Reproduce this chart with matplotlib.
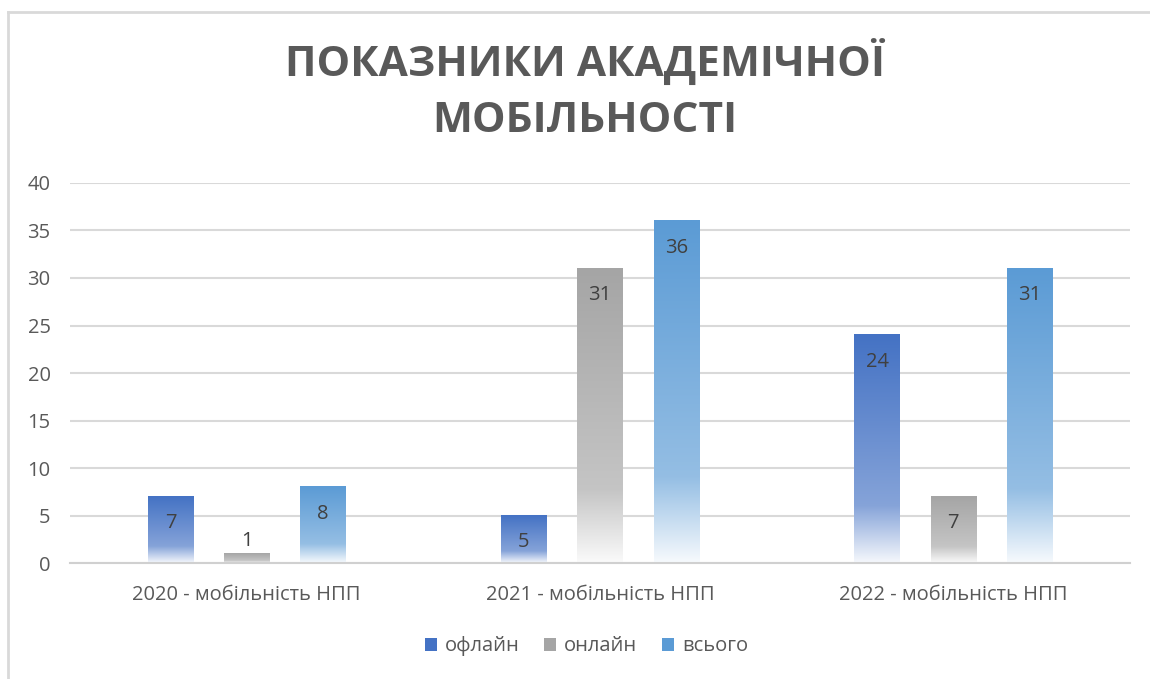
import numpy as np
import matplotlib
matplotlib.use("Agg")
import matplotlib.pyplot as plt
from matplotlib.colors import to_rgb
from matplotlib.patches import Patch
from matplotlib.lines import Line2D

plt.rcParams['font.family'] = ['Open Sans', 'DejaVu Sans']

categories = ["2020 - мобільність НПП", "2021 - мобільність НПП", "2022 - мобільність НПП"]
series = ["офлайн", "онлайн", "всього"]
offline = [7, 5, 24]
online = [1, 31, 7]
total = [8, 36, 31]
values = [offline, online, total]
colors = ["#4472C4", "#A5A5A5", "#5B9BD5"]
title = "ПОКАЗНИКИ АКАДЕМІЧНОЇ\nМОБІЛЬНОСТІ"


def gradient(color, n=256):
    # top = full colour, fades to white at the bottom
    c = np.array(to_rgb(color))
    w = np.ones(3)
    t = np.linspace(0, 1, n)  # 0 at top, 1 at bottom
    stops = [0.0, 0.75, 1.0]
    mix = [0.0, 0.35, 0.95]
    m = np.interp(t, stops, mix)[:, None]
    rgb = c * (1 - m) + w * m
    return rgb[:, None, :]


fig = plt.figure(figsize=(11.5, 6.79), dpi=100)
ax = fig.add_axes([0.0609, 0.1708, 0.9217, 0.5597])

x = np.arange(len(categories))
width = 0.128
offset = 0.216
text_gray = "#595959"

for i, (vals, col) in enumerate(zip(values, colors)):
    bars = ax.bar(x + (i - 1) * offset, vals, width, color="none", zorder=2)
    for b, v in zip(bars, vals):
        x0, y0 = b.get_x(), b.get_y()
        ax.imshow(gradient(col), extent=[x0, x0 + b.get_width(), y0, y0 + b.get_height()],
                  aspect="auto", zorder=2, interpolation="bilinear")
        cx = x0 + b.get_width() / 2
        if v >= 3:
            ax.annotate(str(v), (cx, v), xytext=(0, -12), textcoords="offset points",
                        ha="center", va="top", fontsize=14.5, color="#404040", zorder=3)
        else:
            ax.annotate(str(v), (cx, v), xytext=(0, 2), textcoords="offset points",
                        ha="center", va="bottom", fontsize=14.5, color="#404040", zorder=3)

ax.set_xlim(-0.5, 2.5)
ax.set_ylim(0, 40)
ax.set_yticks(range(0, 41, 5))
ax.set_xticks(x)
ax.set_xticklabels(categories)
ax.tick_params(axis="both", length=0, labelsize=14.5, colors=text_gray)
ax.tick_params(axis="y", pad=14)
ax.tick_params(axis="x", pad=16)
ax.grid(axis="y", color="#d9d9d9", linewidth=1.5, zorder=0)
ax.set_axisbelow(True)
for s in ["top", "right", "left"]:
    ax.spines[s].set_visible(False)
ax.spines["bottom"].set_color("#d0d0d0")
ax.spines["bottom"].set_linewidth(1.5)

fig.text(0.5087, 0.866, title, ha="center", va="center", fontsize=30.5, fontweight="bold",
         color=text_gray, linespacing=1.45)

handles = [Patch(facecolor=c, edgecolor="none") for c in colors]
fig.legend(handles, series, loc="center", bbox_to_anchor=(0.51, 0.048), ncol=3, frameon=False,
           fontsize=14.5, labelcolor=text_gray, handlelength=0.6, handleheight=0.6,
           handletextpad=0.4, columnspacing=1.2)

# chart frame (only top and left edges visible)
fig.add_artist(Line2D([8 / 1150, 1.0], [1 - 12 / 679, 1 - 12 / 679], color="#d9d9d9", lw=2))
fig.add_artist(Line2D([8 / 1150, 8 / 1150], [0, 1 - 12 / 679], color="#d9d9d9", lw=2))

fig.savefig("out.png", dpi=100, facecolor="white")
